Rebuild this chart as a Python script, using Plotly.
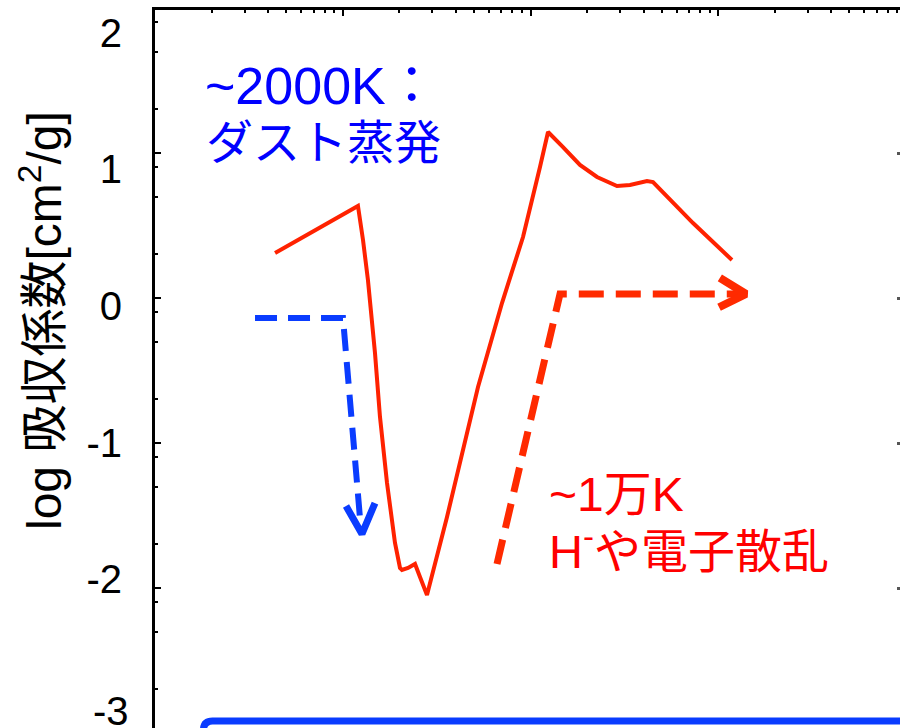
import plotly.graph_objects as go

# ---------------- data ----------------
# Rosseland-mean-like opacity curve: temperature [K] vs log kappa [cm^2/g]
temp_K = [436, 1205, 1282, 1362, 1485, 1579, 1721, 1898, 2018, 2068, 2226, 2426,
          2579, 2810, 3592, 4370, 5253, 7050, 9123, 11234, 12397, 14900, 18345,
          22612, 28890, 33880, 41730, 44930, 57410, 73380, 93760, 118330]
log_kappa = [0.387, 0.731, 0.482, 0.189, -0.345, -0.813, -1.296, -1.734, -1.917,
             -1.932, -1.917, -1.888, -1.983, -2.115, -1.544, -1.054, -0.593, 0.021,
             0.504, 1.016, 1.272, 1.162, 1.031, 0.943, 0.877, 0.884, 0.914, 0.906,
             0.753, 0.606, 0.467, 0.336]

# annotation arrows (data units)
blue_arrow_T = [341, 1003, 1251]
blue_arrow_k = [-0.089, -0.089, -1.64]
blue_head_T = [1041, 1266, 1485]
blue_head_k = [-1.464, -1.668, -1.442]

red_arrow_T = [6632, 14360, 133800]
red_arrow_k = [-1.888, 0.087, 0.087]
red_head_T = [102000, 140600, 101000]
red_head_k = [0.205, 0.087, -0.01]

ytick_vals = [-3, -2, -1, 0, 1, 2]
ytick_text = ["-3", "-2", "-1", "0", "1", "2"]

blue_label = ["~2000K：", "ダスト蒸発"]
red_label = ["~1万K", "H<sup>-</sup>や電子散乱"]
y_title = "log 吸収係数[cm<sup>2</sup>/g]"

# ---------------- layout geometry ----------------
W, H = 900, 728
L, T_, R, B = 155, 10, 0, 0
PW, PH = W - L - R, H - T_ - B


def px_x(px):
    return (px - L) / PW


def px_y(py):
    return (H - B - py) / PH


x_range = [2.0, 2.0 + PW / 187.75]
# label axis: value 2 at y=32.5 px, 136.7 px per unit
lab_top = 2 + (T_ - 32.5) / -136.7
lab_bot = 2 - (H - B - 32.5) / 136.7
# tick-mark axis: value 0 at y=298 px, 145 px per unit
tk_top = (298 - T_) / 145
tk_bot = (298 - (H - B)) / 145

FONT = "Arial, 'Noto Sans CJK JP', sans-serif"
RED_LINE = "#ff2200"
BLUE_ARROW = "#0a3cff"
RED_ARROW = "#ff2a00"

fig = go.Figure()

fig.add_trace(go.Scatter(x=temp_K, y=log_kappa, mode="lines",
                         line=dict(color=RED_LINE, width=4),
                         showlegend=False, hoverinfo="skip"))

fig.add_trace(go.Scatter(x=blue_arrow_T, y=blue_arrow_k, mode="lines",
                         line=dict(color=BLUE_ARROW, width=6, dash="22px,11px"),
                         showlegend=False, hoverinfo="skip"))
fig.add_trace(go.Scatter(x=blue_head_T, y=blue_head_k, mode="lines",
                         line=dict(color=BLUE_ARROW, width=7),
                         showlegend=False, hoverinfo="skip"))
fig.add_trace(go.Scatter(x=red_arrow_T, y=red_arrow_k, mode="lines",
                         line=dict(color=RED_ARROW, width=7, dash="25px,12px"),
                         showlegend=False, hoverinfo="skip"))
fig.add_trace(go.Scatter(x=red_head_T, y=red_head_k, mode="lines",
                         line=dict(color=RED_ARROW, width=8),
                         showlegend=False, hoverinfo="skip"))

# empty traces to register tick-mark axes
fig.add_trace(go.Scatter(x=[], y=[], yaxis="y2", showlegend=False))
fig.add_trace(go.Scatter(x=[], y=[], yaxis="y3", showlegend=False))

x_minor = [d * 10 ** e for e in range(2, 6) for d in range(2, 10)]
y_minor = [k + f for k in range(-3, 3) for f in (-0.699, -0.301, -0.097)]

fig.update_layout(
    width=W, height=H,
    margin=dict(l=L, r=R, t=T_, b=B, pad=0),
    paper_bgcolor="white", plot_bgcolor="white",
    font=dict(family=FONT, color="black"),
    xaxis=dict(type="log", range=x_range, side="top", showline=True,
               linecolor="black", linewidth=2.5, ticks="inside", ticklen=6,
               tickwidth=2, tickcolor="black",
               tickvals=[100, 1000, 10000, 100000], showticklabels=False,
               minor=dict(ticks="inside", ticklen=3, tickwidth=1.5,
                          tickcolor="black", tickvals=x_minor),
               showgrid=False, zeroline=False),
    yaxis=dict(range=[lab_bot, lab_top], tickvals=ytick_vals[1:],
               ticktext=ytick_text[1:],
               ticks="outside", ticklen=24, tickcolor="rgba(0,0,0,0)",
               tickfont=dict(size=40, family=FONT), showline=False,
               showgrid=False, zeroline=False),
    yaxis2=dict(range=[tk_bot, tk_top], overlaying="y", side="left", anchor="x",
                showline=True, linecolor="black", linewidth=2.5,
                ticks="inside", ticklen=6, tickwidth=2, tickcolor="black",
                tickvals=[-2, -1, 0, 1], showticklabels=False,
                minor=dict(ticks="inside", ticklen=3, tickwidth=1.5,
                           tickcolor="black", tickvals=y_minor),
                showgrid=False, zeroline=False),
    yaxis3=dict(range=[tk_bot, tk_top], overlaying="y", side="right", anchor="x",
                showline=False, ticks="inside", ticklen=3, tickwidth=2.5,
                tickcolor="#555", tickvals=[-2, -1, 0, 1], showticklabels=False,
                showgrid=False, zeroline=False),
)

# lowest tick label sits at the very bottom edge: drawn as an annotation
fig.add_annotation(text=ytick_text[0], x=-24 / PW, y=px_y(711), xref="paper",
                   yref="paper", xanchor="right", yanchor="middle", showarrow=False,
                   font=dict(size=40, color="black", family=FONT))

# blue rounded box edge at the bottom
x0 = px_x(203.5)
yt = px_y(721)
rx, ry = 9 / PW, 9 / PH
fig.add_shape(type="path", xref="paper", yref="paper",
              path=f"M {x0},-0.1 L {x0},{yt - ry} Q {x0},{yt} {x0 + rx},{yt} L 1.1,{yt}",
              line=dict(color=BLUE_ARROW, width=7))

ann = dict(xref="paper", yref="paper", showarrow=False, xanchor="left",
           yanchor="middle")
fig.add_annotation(text=blue_label[0], x=px_x(203), y=px_y(86),
                   font=dict(size=52, color="#0000ff", family=FONT), **ann)
fig.add_annotation(text=blue_label[1], x=px_x(204), y=px_y(143),
                   font=dict(size=47, color="#0000ff", family=FONT), **ann)
fig.add_annotation(text=red_label[0], x=px_x(547), y=px_y(494),
                   font=dict(size=48, color="#ff0000", family=FONT), **ann)
fig.add_annotation(text=red_label[1], x=px_x(547), y=px_y(548),
                   font=dict(size=47, color="#ff0000", family=FONT), **ann)
fig.add_annotation(text=y_title, x=px_x(41), y=px_y(321), xref="paper",
                   yref="paper", showarrow=False, textangle=-90,
                   xanchor="center", yanchor="middle",
                   font=dict(size=48, color="black", family=FONT))

fig.write_html(
    "out.html",
    config={"displayModeBar": False},
    post_script="document.body.style.margin='0';document.body.style.overflow='hidden';",
)
